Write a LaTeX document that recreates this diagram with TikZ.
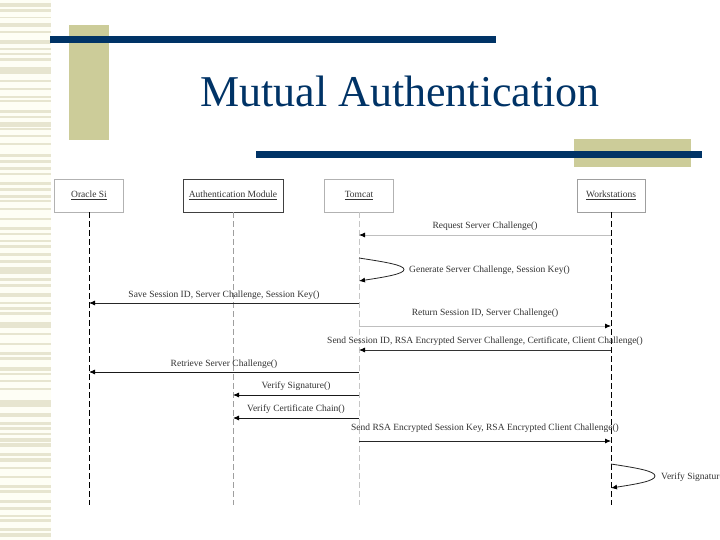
\documentclass[tikz,border=0pt]{standalone}
\usepackage{fontspec}
\setmainfont{Liberation Serif}
\usetikzlibrary{arrows.meta}
\definecolor{navy}{HTML}{003366}
\definecolor{khaki}{HTML}{CCCC99}
\definecolor{stripe}{HTML}{E7E5D0}
\definecolor{cream}{HTML}{FEFEF5}
\begin{document}
\begin{tikzpicture}[x=1pt,y=-1pt,
  hdr/.style={draw=gray!60, line width=0.8pt, fill=white, minimum height=33pt, inner sep=0pt, font=\fontsize{9.5}{11}\selectfont, text=black!80},
  life/.style={dashed, dash pattern=on 6pt off 3pt, line width=0.8pt},
  msg/.style={line width=0.8pt, -{Latex[length=6pt,width=5pt,color=black]}},
  lbl/.style={font=\fontsize{9.5}{11}\selectfont, text=black!80, inner sep=0pt}]
\useasboundingbox (0,0) rectangle (720,540);
\fill[white] (0,0) rectangle (720,540);
% left stripes
\fill[cream] (0,0) rectangle (51,540);
\foreach \a/\b in {3/7,9/12,17/18,23/27,31/33,40/44,48/50,53/55,58/61,67/74,80/82,88/90,96/98,100/102,110/113,116/118,122/127,128/130,135/137,143/145,154/157,160/163,167/170,173/175,182/185,188/191,195/198,200/202,208/210,218/220,227/230,233/235,240/242,245/248,253/256,260/263,267/274,278/281,284/287,293/297,302/304,307/310,312/315,322/328,333/335,343/345,352/355,357/360,367/371,373/375,380/382,388/390,400/407,413/417,422/425,427/430,433/435,438/442,443/447,453/456,458/462,467/469,476/478,485/488,490/493,500/503,507/510,515/517,519/522,528/531,533/537}
  \fill[stripe] (0,\a) rectangle (51,\b);
% title decoration
\fill[khaki] (69,25) rectangle (109,140);
\fill[navy] (50,36) rectangle (496,43);
\fill[khaki] (574,139) rectangle (691,167);
\fill[navy] (256,151) rectangle (702,158);
\node[anchor=base west, inner sep=0pt, text=navy, font=\fontsize{44}{50}\selectfont] (title) at (200,107) {Mutual Authentication};
% header boxes
\node[hdr, minimum width=69pt] (os) at (89,195.5) {\underline{Oracle Si}};
\node[hdr, minimum width=100pt, draw=black!75] (am) at (233,195.5) {\underline{Authentication Module}};
\node[hdr, minimum width=69pt] (tc) at (359,195.5) {\underline{Tomcat}};
\node[hdr, minimum width=68pt, draw=gray!75] (ws) at (611,195.5) {\underline{Workstations}};
% lifelines
\coordinate (osE) at (os.south |- 0,505);
\coordinate (amE) at (am.south |- 0,505);
\coordinate (tcE) at (tc.south |- 0,505);
\coordinate (wsE) at (ws.south |- 0,505);
\draw[life, black] (os.south) -- (osE);
\draw[life, gray!75] (am.south) -- (amE);
\draw[life, gray!45] (tc.south) -- (tcE);
\draw[life, black] (ws.south) -- (wsE);
% messages
\draw[msg, gray!50] (ws.south |- 0,235) -- node[lbl, above=4pt] {Request Server Challenge()} (tc.south |- 0,235);
\draw[msg, black!85] (tc.south |- 0,258) .. controls (385,262) and (404,265) .. (404,269.5) .. controls (404,274) and (385,277) .. (tc.south |- 0,281);
\node[lbl, anchor=west] (gen) at (409,270) {Generate Server Challenge, Session Key()};
\draw[msg, black!85] (tc.south |- 0,303) -- node[lbl, above=3.5pt] {Save Session ID, Server Challenge, Session Key()} (os.south |- 0,303);
\draw[msg, gray!50] (tc.south |- 0,326) -- node[lbl, above=8.5pt] {Return Session ID, Server Challenge()} (ws.south |- 0,326);
\draw[msg, black!80] (ws.south |- 0,350) -- node[lbl, above=4.5pt] {Send Session ID, RSA Encrypted Server Challenge, Certificate, Client Challenge()} (tc.south |- 0,350);
\draw[msg, black!90] (tc.south |- 0,372) -- node[lbl, above=3.5pt] {Retrieve Server Challenge()} (os.south |- 0,372);
\draw[msg, black!90] (tc.south |- 0,395) -- node[lbl, above=4pt] {Verify Signature()} (am.south |- 0,395);
\draw[msg, black!90] (tc.south |- 0,418) -- node[lbl, above=4pt] {Verify Certificate Chain()} (am.south |- 0,418);
\draw[msg, black!85] (tc.south |- 0,441) -- node[lbl, above=8.5pt] {Send RSA Encrypted Session Key, RSA Encrypted Client Challenge()} (ws.south |- 0,441);
\draw[msg, black!85] (ws.south |- 0,464) .. controls (637,468) and (655,471) .. (655,476) .. controls (655,481) and (637,484) .. (ws.south |- 0,488);
\begin{scope}
\clip (0,0) rectangle (720,540);
\node[lbl, anchor=west] (vs) at (661,477) {Verify Signature()};
\end{scope}
\end{tikzpicture}
\end{document}
